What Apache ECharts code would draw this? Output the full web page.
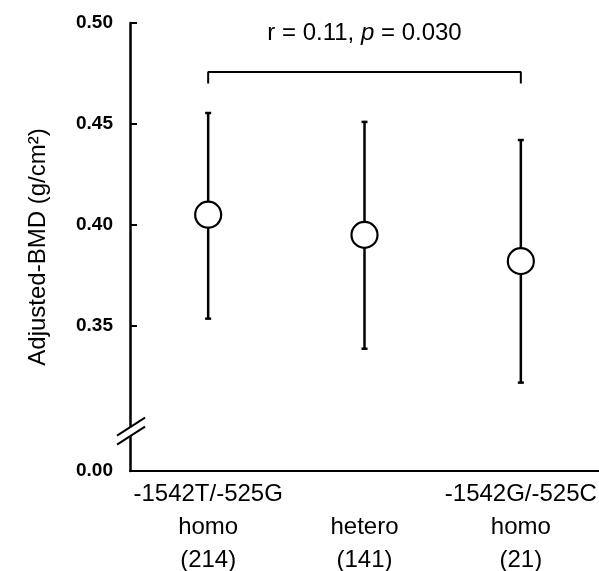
<!DOCTYPE html>
<html>
<head>
<meta charset="utf-8">
<script src="https://cdn.jsdelivr.net/npm/echarts@6/dist/echarts.min.js"></script>
<style>
  html, body { margin: 0; padding: 0; background: #fff; }
  #chart { width: 599px; height: 571px; }
</style>
</head>
<body>
<div id="chart"></div>
<script>
// 基因型分组
var groups = ['-1542T/-525G\nhomo\n(214)', '\nhetero\n(141)', '-1542G/-525C\nhomo\n(21)'];
// 校正后BMD 均值及误差上下限
var means = [0.405, 0.395, 0.382];
var lows = [0.3535, 0.3386, 0.3218];
var highs = [0.4554, 0.451, 0.442];
// 坐标刻度
var axisBottom = 0.278;       // 断轴后底部，显示为 0.00
var yLabelValues = [0.278, 0.35, 0.40, 0.45, 0.50];
var yTickValues = [0.35, 0.40, 0.45, 0.50];
// 顶部相关性括号
var bracketFrom = 0, bracketTo = 2;
var bracketTop = 0.4757, bracketFoot = 0.4700;
var statText = ['r = 0.11, ', 'p', ' = 0.030'];

var FONT = 'Liberation Sans, Arial, sans-serif';
var chart = echarts.init(document.getElementById('chart'));

var errData = groups.map(function (g, i) { return [i, lows[i], highs[i]]; });
var bracketData = [
  [bracketFrom, bracketFoot], [bracketFrom, bracketTop],
  [bracketTo, bracketTop], [bracketTo, bracketFoot]
];

var option = {
  animation: false,
  grid: { left: 130, right: 0, top: 23, bottom: 100, containLabel: false, outerBoundsMode: 'none' },
  xAxis: {
    type: 'category',
    data: groups,
    boundaryGap: true,
    axisLine: { lineStyle: { color: '#000', width: 2 } },
    axisTick: { inside: true, length: 5, alignWithLabel: true, lineStyle: { color: '#000', width: 1.5 } },
    axisLabel: {
      interval: 0, color: '#000', fontFamily: FONT, fontSize: 24,
      lineHeight: 33, margin: 7
    },
    splitLine: { show: false }
  },
  yAxis: {
    type: 'value',
    min: axisBottom,
    max: 0.50,
    name: 'Adjusted-BMD (g/cm²)',
    nameLocation: 'middle',
    nameGap: 80,
    nameRotate: 90,
    nameTextStyle: { color: '#000', fontFamily: FONT, fontSize: 24 },
    axisLine: { show: true, lineStyle: { color: '#000', width: 2.5 } },
    axisTick: { show: true, inside: true, length: 7, customValues: yTickValues, lineStyle: { color: '#000', width: 2 } },
    axisLabel: {
      color: '#000', fontFamily: FONT, fontSize: 19, fontWeight: 'bold', margin: 17,
      customValues: yLabelValues,
      formatter: function (v) { return v < 0.3 ? '0.00' : v.toFixed(2); }
    },
    splitLine: { show: false }
  },
  series: [
    {
      type: 'custom',
      data: errData,
      z: 2,
      renderItem: function (params, api) {
        var x = api.value(0);
        var lo = api.coord([x, api.value(1)]);
        var hi = api.coord([x, api.value(2)]);
        var cap = 3;
        var st = { stroke: '#000', lineWidth: 2.5 };
        return {
          type: 'group',
          children: [
            { type: 'line', shape: { x1: lo[0], y1: lo[1], x2: hi[0], y2: hi[1] }, style: st },
            { type: 'line', shape: { x1: hi[0] - cap, y1: hi[1], x2: hi[0] + cap, y2: hi[1] }, style: st },
            { type: 'line', shape: { x1: lo[0] - cap, y1: lo[1], x2: lo[0] + cap, y2: lo[1] }, style: st }
          ]
        };
      }
    },
    {
      type: 'scatter',
      data: means,
      symbol: 'circle',
      symbolSize: 26,
      z: 3,
      itemStyle: { color: '#fff', borderColor: '#000', borderWidth: 2.2, opacity: 1 }
    },
    {
      type: 'line',
      data: bracketData,
      symbol: 'none',
      lineStyle: { color: '#000', width: 2 },
      z: 2
    }
  ]
};
chart.setOption(option);

// 断轴标记与统计文字
var ax = chart.convertToPixel({ gridIndex: 0 }, [0, 0.298]);
var axisX = 131;
var by = ax[1];
var midX = chart.convertToPixel({ xAxisIndex: 0 }, 1);
chart.setOption({
  graphic: [
    {
      type: 'polygon',
      shape: { points: [[axisX - 14, by + 5], [axisX + 14, by - 13], [axisX + 14, by - 4], [axisX - 14, by + 14]] },
      style: { fill: '#fff' },
      z: 10
    },
    {
      type: 'line',
      shape: { x1: axisX - 14, y1: by + 5, x2: axisX + 14, y2: by - 13 },
      style: { stroke: '#000', lineWidth: 2 },
      z: 11
    },
    {
      type: 'line',
      shape: { x1: axisX - 14, y1: by + 14, x2: axisX + 14, y2: by - 4 },
      style: { stroke: '#000', lineWidth: 2 },
      z: 11
    },
    {
      type: 'text',
      x: midX,
      y: 33,
      style: {
        text: '{a|' + statText[0] + '}{b|' + statText[1] + '}{a|' + statText[2] + '}',
        align: 'center',
        verticalAlign: 'middle',
        rich: {
          a: { fontFamily: FONT, fontSize: 24, fill: '#000' },
          b: { fontFamily: FONT, fontSize: 24, fontStyle: 'italic', fill: '#000' }
        }
      },
      z: 10
    }
  ]
});
</script>
</body>
</html>
